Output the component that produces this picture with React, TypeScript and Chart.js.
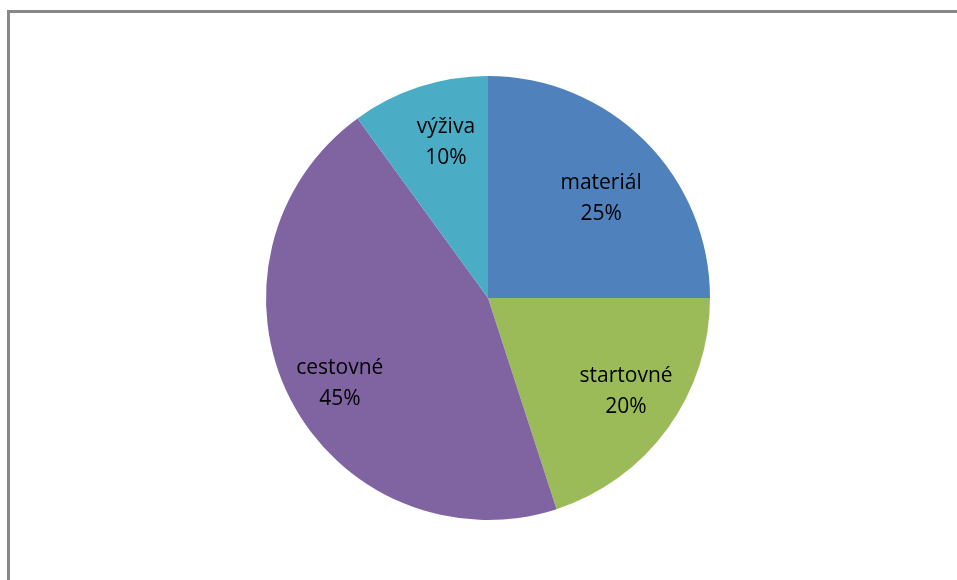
import React, { useEffect, useRef } from "react";
import { Chart, registerables } from "chart.js";

Chart.register(...registerables);

const categories = ["materiál", "startovné", "cestovné", "výživa"];
const values = [25, 20, 45, 10];
const colors = ["#4F81BD", "#9BBB59", "#8064A2", "#4BACC6"];

// label placement (best-fit style): radius fraction and angular nudge (degrees)
const labelRadius = [0.68, 0.75, 0.77, 0.728];
const labelNudge = [3.5, -2, -2.9, 2.9];

const labelPlugin = {
  id: "sliceLabels",
  afterDatasetsDraw(chart: any) {
    const ctx = chart.ctx;
    const meta = chart.getDatasetMeta(0);
    const total = values.reduce((a, b) => a + b, 0);
    ctx.save();
    ctx.font = "21px 'Open Sans', 'Liberation Sans', sans-serif";
    ctx.fillStyle = "#000";
    ctx.textAlign = "center";
    ctx.textBaseline = "middle";
    meta.data.forEach((arc: any, i: number) => {
      const p = arc.getProps(["x", "y", "startAngle", "endAngle", "outerRadius"], true);
      const mid = (p.startAngle + p.endAngle) / 2 + (labelNudge[i] * Math.PI) / 180;
      const r = p.outerRadius * labelRadius[i];
      const x = p.x + Math.cos(mid) * r;
      const y = p.y + Math.sin(mid) * r;
      const pct = Math.round((values[i] / total) * 100) + "%";
      ctx.fillText(categories[i], x, y - 15);
      ctx.fillText(pct, x, y + 16);
    });
    ctx.restore();
  },
};

export default function App() {
  const ref = useRef<HTMLCanvasElement>(null);
  useEffect(() => {
    if (!ref.current) return;
    const chart = new Chart(ref.current, {
      type: "pie",
      data: {
        labels: categories,
        datasets: [
          {
            data: values,
            backgroundColor: colors,
            borderWidth: 0,
          },
        ],
      },
      options: {
        responsive: false,
        animation: false,
        radius: 222,
        layout: { padding: { left: 19, top: 16, right: 0, bottom: 0 } },
        plugins: {
          legend: { display: false },
          tooltip: { enabled: false },
        },
      },
      plugins: [labelPlugin],
    });
    return () => chart.destroy();
  }, []);
  return (
    <div style={{ position: "fixed", left: 0, top: 0, width: 957, height: 580, background: "#fff", overflow: "hidden" }}>
      <div
        style={{
          position: "absolute",
          left: 7,
          top: 10,
          width: 1000,
          height: 700,
          border: "3px solid #888",
          boxSizing: "border-box",
        }}
      />
      <canvas ref={ref} width={957} height={580} style={{ position: "absolute", left: 0, top: 0 }} />
    </div>
  );
}
